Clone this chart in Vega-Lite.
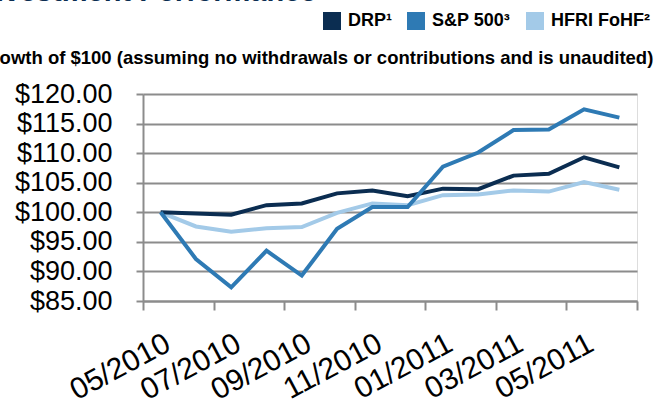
{
  "$schema": "https://vega.github.io/schema/vega-lite/v6.json",
  "autosize": "none",
  "width": 494,
  "height": 207,
  "padding": {"left": 143, "top": 94, "right": 17, "bottom": 108},
  "background": "white",
  "title": {
    "text": "Investment Performance",
    "subtitle": "Growth of $100 (assuming no withdrawals or contributions and is unaudited)",
    "anchor": "start",
    "frame": "group",
    "dx": -165,
    "offset": -55,
    "font": "Liberation Sans",
    "fontSize": 29,
    "fontWeight": "bold",
    "color": "#0b2d51",
    "subtitleFont": "Liberation Sans",
    "subtitleFontSize": 18.5,
    "subtitleFontWeight": "bold",
    "subtitleColor": "#000000",
    "subtitlePadding": 41.5
  },
  "data": {
    "values": [
      {"month": "05/2010", "series": "HFRI FoHF²", "value": 100.0},
      {"month": "06/2010", "series": "HFRI FoHF²", "value": 97.6},
      {"month": "07/2010", "series": "HFRI FoHF²", "value": 96.7},
      {"month": "08/2010", "series": "HFRI FoHF²", "value": 97.3},
      {"month": "09/2010", "series": "HFRI FoHF²", "value": 97.5},
      {"month": "10/2010", "series": "HFRI FoHF²", "value": 99.9},
      {"month": "11/2010", "series": "HFRI FoHF²", "value": 101.5},
      {"month": "12/2010", "series": "HFRI FoHF²", "value": 101.2},
      {"month": "01/2011", "series": "HFRI FoHF²", "value": 102.9},
      {"month": "02/2011", "series": "HFRI FoHF²", "value": 103.0},
      {"month": "03/2011", "series": "HFRI FoHF²", "value": 103.7},
      {"month": "04/2011", "series": "HFRI FoHF²", "value": 103.5},
      {"month": "05/2011", "series": "HFRI FoHF²", "value": 105.1},
      {"month": "06/2011", "series": "HFRI FoHF²", "value": 103.8},
      {"month": "05/2010", "series": "DRP¹", "value": 100.0},
      {"month": "06/2010", "series": "DRP¹", "value": 99.8},
      {"month": "07/2010", "series": "DRP¹", "value": 99.6},
      {"month": "08/2010", "series": "DRP¹", "value": 101.2},
      {"month": "09/2010", "series": "DRP¹", "value": 101.5},
      {"month": "10/2010", "series": "DRP¹", "value": 103.2},
      {"month": "11/2010", "series": "DRP¹", "value": 103.7},
      {"month": "12/2010", "series": "DRP¹", "value": 102.7},
      {"month": "01/2011", "series": "DRP¹", "value": 104.0},
      {"month": "02/2011", "series": "DRP¹", "value": 103.9},
      {"month": "03/2011", "series": "DRP¹", "value": 106.2},
      {"month": "04/2011", "series": "DRP¹", "value": 106.5},
      {"month": "05/2011", "series": "DRP¹", "value": 109.3},
      {"month": "06/2011", "series": "DRP¹", "value": 107.6},
      {"month": "05/2010", "series": "S&P 500³", "value": 100.0},
      {"month": "06/2010", "series": "S&P 500³", "value": 92.1},
      {"month": "07/2010", "series": "S&P 500³", "value": 87.3},
      {"month": "08/2010", "series": "S&P 500³", "value": 93.5},
      {"month": "09/2010", "series": "S&P 500³", "value": 89.3},
      {"month": "10/2010", "series": "S&P 500³", "value": 97.2},
      {"month": "11/2010", "series": "S&P 500³", "value": 100.9},
      {"month": "12/2010", "series": "S&P 500³", "value": 100.9},
      {"month": "01/2011", "series": "S&P 500³", "value": 107.7},
      {"month": "02/2011", "series": "S&P 500³", "value": 110.1},
      {"month": "03/2011", "series": "S&P 500³", "value": 113.9},
      {"month": "04/2011", "series": "S&P 500³", "value": 114.0},
      {"month": "05/2011", "series": "S&P 500³", "value": 117.4},
      {"month": "06/2011", "series": "S&P 500³", "value": 116.0}
    ]
  },
  "mark": {"type": "line", "strokeWidth": 4, "strokeJoin": "miter"},
  "encoding": {
    "x": {
      "field": "month",
      "type": "ordinal",
      "sort": null,
      "scale": {"type": "band", "paddingInner": 0, "paddingOuter": 0},
      "axis": {
        "title": null,
        "tickBand": "extent",
        "tickSize": 9,
        "tickColor": {
          "condition": {"test": "indexof(['05/2010','07/2010','09/2010','11/2010','01/2011','03/2011','05/2011'], datum.value) >= 0", "value": "transparent"},
          "value": "#8c8c8c"
        },
        "tickWidth": 2,
        "domainColor": "#8c8c8c",
        "domainWidth": 2,
        "labelExpr": "indexof(['05/2010','07/2010','09/2010','11/2010','01/2011','03/2011','05/2011'], datum.value) >= 0 ? datum.label : ''",
        "labelOverlap": false,
        "labelAngle": -28,
        "labelAlign": "right",
        "labelBaseline": "top",
        "labelPadding": 18,
        "labelFont": "Liberation Sans",
        "labelFontSize": 30,
        "labelColor": "#000000",
        "grid": false
      }
    },
    "y": {
      "field": "value",
      "type": "quantitative",
      "scale": {"domain": [85, 120], "nice": false, "zero": false},
      "axis": {
        "title": null,
        "values": [85, 90, 95, 100, 105, 110, 115, 120],
        "format": "$.2f",
        "tickSize": 7,
        "tickColor": "#8c8c8c",
        "tickWidth": 2,
        "domainColor": "#8c8c8c",
        "domainWidth": 2,
        "gridColor": "#8c8c8c",
        "gridWidth": 2,
        "gridOpacity": 1,
        "labelPadding": 24,
        "labelFont": "Liberation Sans",
        "labelFontSize": 27,
        "labelColor": "#000000"
      }
    },
    "color": {
      "field": "series",
      "type": "nominal",
      "scale": {
        "domain": ["DRP¹", "S&P 500³", "HFRI FoHF²"],
        "range": ["#0b2d51", "#2e7ab4", "#a3cae8"]
      },
      "legend": {
        "title": null,
        "orient": "none",
        "legendX": 180,
        "legendY": -82,
        "direction": "horizontal",
        "symbolType": "square",
        "symbolSize": 324,
        "symbolStrokeWidth": 0,
        "labelFont": "Liberation Sans",
        "labelFontSize": 18,
        "labelFontWeight": "bold",
        "labelColor": "#000000",
        "labelOffset": 7,
        "columnPadding": 15,
        "encode": {
          "symbols": {"update": {"fill": {"scale": "color", "field": "value"}, "fillOpacity": {"value": 1}}}
        }
      }
    },
    "order": {"field": "series"}
  }
}
